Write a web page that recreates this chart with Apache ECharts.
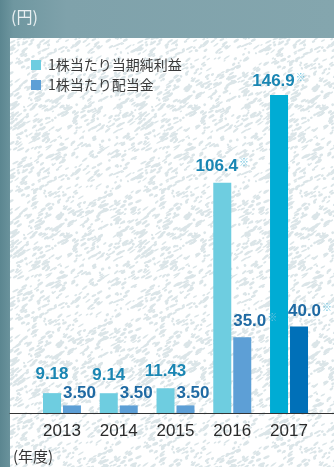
<!DOCTYPE html>
<html><head><meta charset="utf-8">
<script src="https://cdn.jsdelivr.net/npm/echarts@6/dist/echarts.min.js"></script>
<style>html,body{margin:0;padding:0;}#c{width:334px;height:467px;}</style>
</head><body><div id="c"></div>
<script>
const categories = ['2013','2014','2015','2016','2017'];
const netIncome = [9.18, 9.14, 11.43, 106.4, 146.9];
const dividend = [3.50, 3.50, 3.50, 35.0, 40.0];
const netIncomeLabels = ['9.18','9.14','11.43','106.4','146.9'];
const dividendLabels = ['3.50','3.50','3.50','35.0','40.0'];
const asterisk = [false, false, false, true, true];
const seriesNames = ['1株当たり当期純利益','1株当たり配当金'];

const numFont = '"Liberation Sans", Arial, sans-serif';
const jpFont = '"Noto Sans CJK JP", sans-serif';

const netDist = [10, 9.5, 8.5, 7.5, 5.5];
const divDist = [4, 4, 4, 7.5, 6.5];
const divOff = [7.5, 7.5, 7.5, 13, 11];

// decorative paper texture tile (deterministic)
function texture(){
  const S = 128, c = document.createElement('canvas');
  c.width = S; c.height = S;
  const g = c.getContext('2d');
  g.fillStyle = '#ffffff'; g.fillRect(0,0,S,S);
  g.fillStyle = '#dbe5e8';
  const h = n => { const v = Math.sin(n*12.9898+78.233)*43758.5453; return v-Math.floor(v); };
  for (let k=0;k<620;k++){
    const x = h(k*3+1)*S, y = h(k*3+2)*S, r = 1+h(k*3+3)*3;
    for (const dx of [-S,0,S]) for (const dy of [-S,0,S]){
      g.beginPath();
      g.ellipse(x+dx,y+dy,r,0.7+h(k*7)*0.8,-0.4-h(k*5)*0.3,0,Math.PI*2);
      g.fill();
    }
  }
  return c;
}

function rich(color){
  return {
    a:{fontFamily:numFont,fontWeight:'bold',fontSize:17,lineHeight:17,color:color},
    s:{fontFamily:jpFont,fontSize:10,lineHeight:17,color:'#6ec3de',padding:[0,0,8,1]}
  };
}

const netData = netIncome.map((v,i)=>({
  value:v,
  itemStyle: i===4 ? {color:'#00acd4'} : undefined,
  label:{show:true,position:'top',distance:netDist[i],
    formatter:'{a|'+netIncomeLabels[i]+'}'+(asterisk[i]?'{s|※}':''),rich:rich('#1a86b3')}
}));
const divData = dividend.map((v,i)=>({
  value:v,
  itemStyle: i===4 ? {color:'#0070b8'} : undefined,
  label:{show:true,position:'top',distance:divDist[i],offset:[divOff[i],0],
    formatter:'{a|'+dividendLabels[i]+'}'+(asterisk[i]?'{s|※}':''),rich:rich('#1f6aa3')}
}));

const chart = echarts.init(document.getElementById('c'), null, {renderer:'canvas'});
chart.setOption({
  animation:false,
  backgroundColor:{type:'linear',x:0,y:0,x2:1,y2:0,colorStops:[
    {offset:0,color:'#5b8690'},{offset:0.04,color:'#6f97a0'},{offset:0.2,color:'#7fa2ab'},{offset:1,color:'#84a6ae'}]},
  graphic:[
    {type:'rect',z:-10,shape:{x:10,y:38,width:324,height:429},style:{fill:{image:texture(),repeat:'repeat'}}},
    {type:'text',left:11,top:9,style:{text:'(円)',fontFamily:jpFont,fontSize:16,fill:'#e9f0f2'}},
    {type:'text',left:13,top:449,style:{text:'(年度)',fontFamily:jpFont,fontSize:15,fill:'#333333'}}
  ],
  legend:{
    orient:'vertical',left:26,top:53,itemWidth:10,itemHeight:10,itemGap:6,
    icon:'rect',
    textStyle:{fontFamily:jpFont,fontSize:14,color:'#3a3a3a',padding:[0,0,0,2]},
    data:seriesNames
  },
  grid:[
    {left:33.6,right:16.6,top:66.6,bottom:54},
    {left:10,right:0,top:66.6,bottom:54}
  ],
  xAxis:[
    {type:'category',data:categories,gridIndex:0,
     axisLine:{show:false},axisTick:{show:false},
     axisLabel:{fontFamily:numFont,fontSize:17,color:'#2a2a2a',margin:10}},
    {type:'value',gridIndex:1,min:0,max:1,
     axisLine:{show:true,onZero:false,lineStyle:{color:'#333333',width:1}},
     axisTick:{show:false},axisLabel:{show:false},splitLine:{show:false}}
  ],
  yAxis:[
    {type:'value',gridIndex:0,min:0,max:160,show:false},
    {type:'value',gridIndex:1,min:0,max:1,show:false}
  ],
  series:[
    {name:seriesNames[0],type:'bar',xAxisIndex:0,yAxisIndex:0,barWidth:18,barGap:'11%',
     itemStyle:{color:'#6ecde0'},data:netData},
    {name:seriesNames[1],type:'bar',xAxisIndex:0,yAxisIndex:0,barWidth:18,barGap:'11%',
     itemStyle:{color:'#5d9fd6'},data:divData}
  ]
});
</script></body></html>
